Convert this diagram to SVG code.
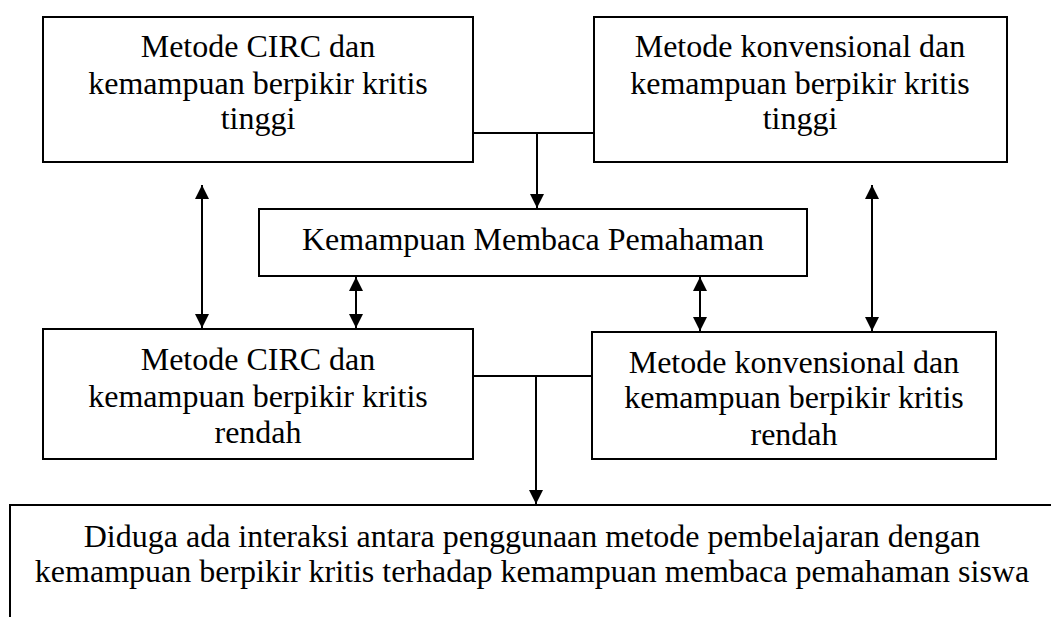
<svg xmlns="http://www.w3.org/2000/svg" width="1051" height="617" viewBox="0 0 1051 617">
<style>
.box{fill:#fff;stroke:#000;stroke-width:2}
.t{font-family:"Liberation Serif","Times New Roman",serif;font-size:32px;fill:#000;text-anchor:middle}
.c{stroke:#000;stroke-width:2;fill:none}
</style>
<defs>
<marker id="ah" viewBox="0 0 14 14" markerWidth="14" markerHeight="14" refX="14" refY="7" orient="auto-start-reverse" markerUnits="userSpaceOnUse">
<path d="M0,0 L14,7 L0,14 z" fill="#000"/>
</marker>
</defs>
<rect width="1051" height="617" fill="#fff"/>
<g id="n1">
<rect class="box" x="43" y="17" width="430" height="145"/>
<text class="t" x="258" y="57">Metode CIRC dan</text>
<text class="t" x="258" y="94">kemampuan berpikir kritis</text>
<text class="t" x="258" y="129">tinggi</text>
</g>
<g id="n2">
<rect class="box" x="594" y="17" width="413" height="145"/>
<text class="t" x="800" y="57">Metode konvensional dan</text>
<text class="t" x="800" y="94">kemampuan berpikir kritis</text>
<text class="t" x="800" y="129">tinggi</text>
</g>
<g id="n3">
<rect class="box" x="259" y="209" width="548" height="67"/>
<text class="t" x="533" y="250">Kemampuan Membaca Pemahaman</text>
</g>
<g id="n4">
<rect class="box" x="43" y="329" width="430" height="130"/>
<text class="t" x="258" y="370">Metode CIRC dan</text>
<text class="t" x="258" y="407">kemampuan berpikir kritis</text>
<text class="t" x="258" y="443">rendah</text>
</g>
<g id="n5">
<rect class="box" x="592" y="332" width="404" height="127"/>
<text class="t" x="794" y="373">Metode konvensional dan</text>
<text class="t" x="794" y="408">kemampuan berpikir kritis</text>
<text class="t" x="794" y="445">rendah</text>
</g>
<g id="n6">
<rect class="box" x="10" y="505" width="1100" height="200"/>
<text class="t" x="532" y="547">Diduga ada interaksi antara penggunaan metode pembelajaran dengan</text>
<text class="t" x="532" y="582">kemampuan berpikir kritis terhadap kemampuan membaca pemahaman siswa</text>
</g>
<g id="connectors">
<path class="c" d="M473,133 H594"/>
<path class="c" d="M537,133 V208" marker-end="url(#ah)"/>
<path class="c" d="M202,185 V328" marker-start="url(#ah)" marker-end="url(#ah)"/>
<path class="c" d="M356,277 V328" marker-start="url(#ah)" marker-end="url(#ah)"/>
<path class="c" d="M700,277 V331" marker-start="url(#ah)" marker-end="url(#ah)"/>
<path class="c" d="M872,185 V331" marker-start="url(#ah)" marker-end="url(#ah)"/>
<path class="c" d="M473,376 H592"/>
<path class="c" d="M536,376 V504" marker-end="url(#ah)"/>
</g>
</svg>
